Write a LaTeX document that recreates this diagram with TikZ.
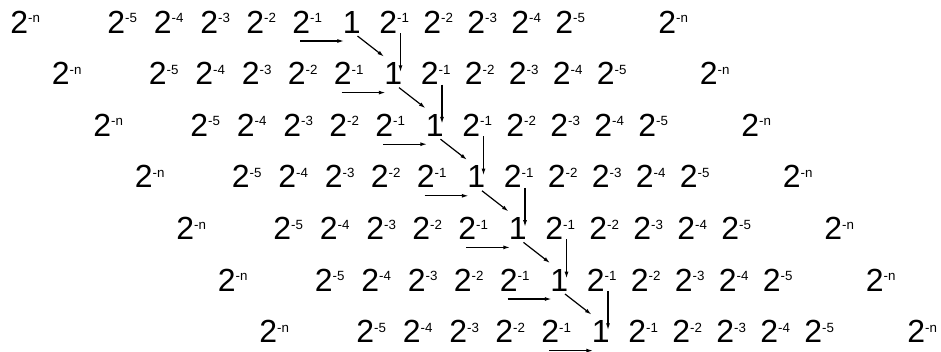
\documentclass[tikz,border=0pt]{standalone}
\usepackage{fontspec}
\setmainfont{Liberation Sans}
\usetikzlibrary{arrows.meta}
\newcommand{\pw}[1]{2\raisebox{7.7pt}{\fontsize{10}{10}\selectfont -#1}}

\begin{document}
\begin{tikzpicture}[x=0.75pt,y=-0.75pt,
  term/.style={inner sep=0pt,anchor=base west,font=\fontsize{24}{24}\selectfont},
  arr/.style={-{Latex[length=5pt,width=3pt]},line width=0.9pt}]
  \useasboundingbox (0,0) rectangle (941,351);
  % seven rows, each one shifted down and to the right
  \foreach \k in {0,...,6} {
    \begin{scope}[shift={(41.5*\k,51.6*\k)}]
      \node[term] (nl-\k) at (10,33) {\pw{n}};
      \foreach \e/\x in {5/107,4/153.5,3/200,2/246,1/292}
        \node[term] (l\e-\k) at (\x,33) {\pw{\e}};
      \node[term] (one-\k) at (342.5,33) {1};
      \foreach \e/\x in {1/379,2/423,3/467,4/511,5/555}
        \node[term] (r\e-\k) at (\x,33) {\pw{\e}};
      \node[term] (nr-\k) at (658,33) {\pw{n}};
    \end{scope}
  }
  % arrows into the ones
  \foreach \k in {0,...,6}
    \draw[arr] ([shift={(8,8)}]l1-\k.base west) -- ([shift={(1.5,8)}]one-\k.base west);
  \foreach \k [count=\kk from 1] in {0,...,5} {
    \draw[arr] ([shift={(15,3)}]one-\k.base west) -- ([shift={(0,-28)}]one-\kk.base west);
    \draw[arr] ([shift={(21.5,0)}]r1-\k.base west) -- ([shift={(16.5,-12.6)}]one-\kk.base west);
  }
\end{tikzpicture}
\end{document}
